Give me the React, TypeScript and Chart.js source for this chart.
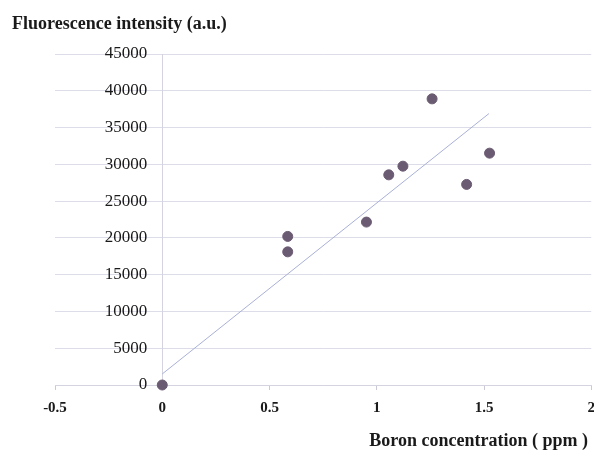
import React, { useEffect, useRef } from "react";
import { Chart, registerables } from "chart.js";

Chart.register(...registerables);

const pointX = [0, 0.585, 0.585, 0.952, 1.056, 1.122, 1.258, 1.419, 1.526];
const pointY = [0, 20200, 18100, 22150, 28570, 29750, 38900, 27270, 31520];
const trendX = [0, 1.523];
const trendY = [1500, 36900];
const xTicks = [-0.5, 0, 0.5, 1, 1.5, 2];
const yTitle = "Fluorescence intensity (a.u.)";
const xTitle = "Boron concentration ( ppm )";

const SERIF = "'Liberation Serif', 'Times New Roman', serif";
const Y_LABEL_GAP = 15;

export default function App() {
  const ref = useRef<HTMLCanvasElement | null>(null);

  useEffect(() => {
    if (!ref.current) return;
    const chart = new Chart(ref.current, {
      type: "scatter",
      data: {
        datasets: [
          {
            label: "data",
            data: pointX.map((x, i) => ({ x, y: pointY[i] })),
            backgroundColor: "#6b5b72",
            borderColor: "#6b5b72",
            pointRadius: 5,
            pointHoverRadius: 5,
            clip: false as any,
            order: 1,
          },
          {
            label: "trend",
            data: trendX.map((x, i) => ({ x, y: trendY[i] })),
            showLine: true,
            borderColor: "#a9b0d6",
            borderWidth: 1,
            pointRadius: 0,
            clip: false as any,
            order: 2,
          },
        ],
      },
      options: {
        animation: false,
        responsive: false,
        maintainAspectRatio: false,
        layout: { padding: { left: 55, right: 8, top: 54, bottom: 0 } },
        plugins: {
          legend: { display: false },
          tooltip: { enabled: false },
          title: { display: false },
        },
        scales: {
          x: {
            type: "linear",
            position: "bottom",
            min: -0.5,
            max: 2,
            afterBuildTicks: (s: any) => {
              s.ticks = xTicks.map((v) => ({ value: v }));
            },
            afterFit: (s: any) => {
              s.height = 65;
            },
            ticks: {
              padding: 9,
              color: "#1a1a1a",
              font: { family: SERIF, size: 15, weight: "bold" },
              callback: (v: any) => String(v),
              maxRotation: 0,
            },
            grid: {
              drawOnChartArea: false,
              drawTicks: true,
              tickLength: 5,
              color: "#c9cad6",
            },
            border: { display: true, color: "#d3d4e0", width: 1 },
          },
          y: {
            type: "linear",
            position: { x: 0 } as any,
            min: 0,
            max: 45000,
            ticks: {
              stepSize: 5000,
              padding: 14,
              color: "#1a1a1a",
              font: { family: SERIF, size: 17 },
              callback: (v: any) => String(v),
            },
            afterFit: (s: any) => {
              s.width = 0;
              if (!s.__shifted) {
                s.__shifted = true;
                const orig = s._computeLabelItems.bind(s);
                s._computeLabelItems = (ca: any) =>
                  orig(ca).map((item: any) => ({
                    ...item,
                    options: {
                      ...item.options,
                      translation: [
                        item.options.translation[0] - Y_LABEL_GAP,
                        item.options.translation[1],
                      ],
                    },
                  }));
              }
            },
            grid: {
              drawTicks: false,
              color: "#dcdde8",
            },
            border: { display: true, color: "#d3d4e0", width: 1 },
          },
        },
      },
    });
    return () => chart.destroy();
  }, []);

  return (
    <div
      style={{
        position: "fixed",
        left: 0,
        top: 0,
        width: 594,
        height: 450,
        overflow: "hidden",
        background: "#ffffff",
      }}
    >
      <canvas
        ref={ref}
        width={604}
        height={450}
        style={{ position: "absolute", left: 0, top: 0, width: 604, height: 450 }}
      />
      <div
        style={{
          position: "absolute",
          left: 12,
          top: 12,
          fontFamily: SERIF,
          fontWeight: "bold",
          fontSize: 18,
          lineHeight: "22px",
          color: "#1a1a1a",
          whiteSpace: "nowrap",
        }}
      >
        {yTitle}
      </div>
      <div
        style={{
          position: "absolute",
          right: 6,
          top: 429,
          fontFamily: SERIF,
          fontWeight: "bold",
          fontSize: 18,
          lineHeight: "22px",
          color: "#1a1a1a",
          whiteSpace: "nowrap",
        }}
      >
        {xTitle}
      </div>
    </div>
  );
}
